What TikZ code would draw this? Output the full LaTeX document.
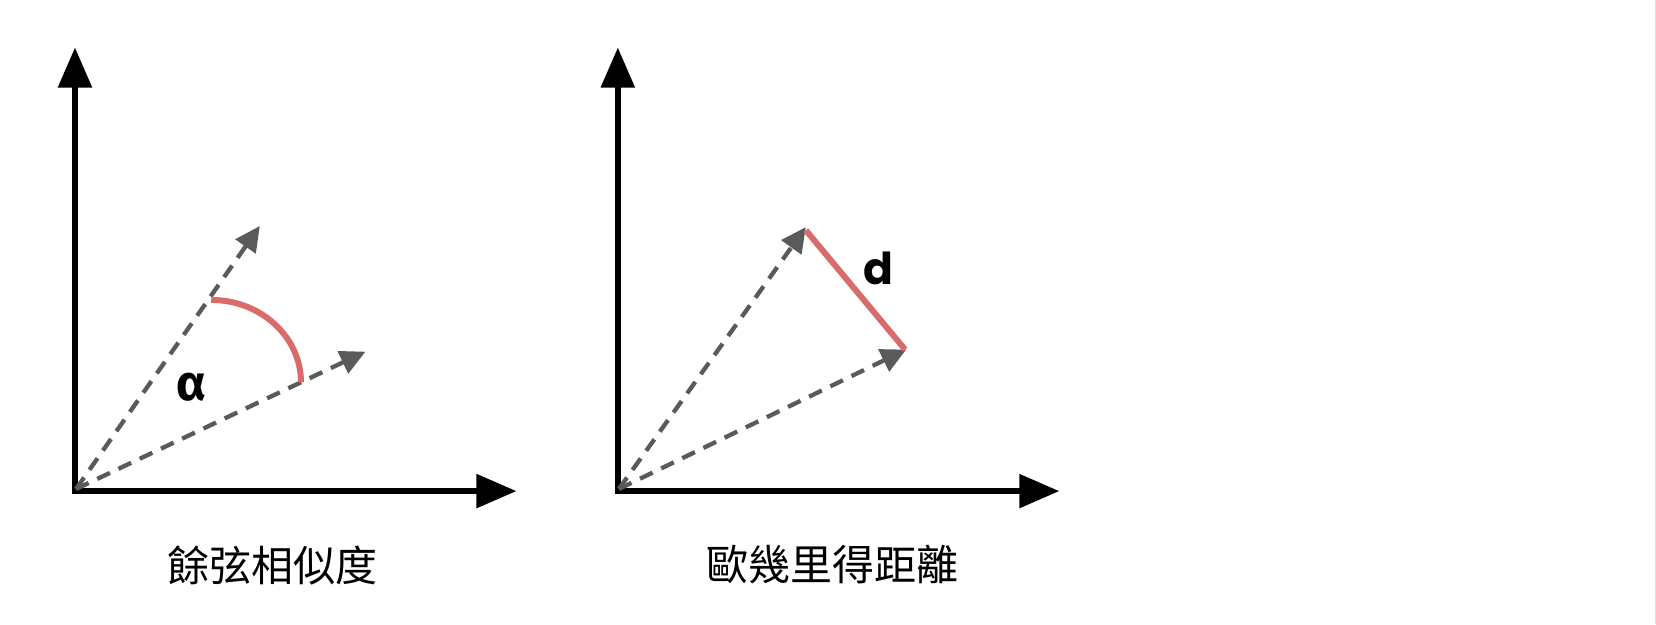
\documentclass[tikz,border=0pt]{standalone}
\usepackage{fontspec}
\setmainfont{Noto Sans}
\newfontfamily\cjk{Noto Sans CJK TC}
\newfontfamily\greekbold{Fira Sans}
\newfontfamily\geo{Poppins}
\usetikzlibrary{arrows.meta}
\definecolor{vecgray}{HTML}{5A5A5A}
\definecolor{redarc}{HTML}{D96B6B}
\tikzset{
  axis/.style={line width=5.5pt, black, -{Triangle[length=40pt,width=33pt]}},
  vec/.style={line width=4.3pt, vecgray, dash pattern=on 14pt off 9.5pt, -{Triangle[length=25pt,width=24pt]}},
  redline/.style={line width=6pt, redarc},
  caption/.style={font=\cjk\fontsize{42}{50}\selectfont, inner sep=0pt},
}
\begin{document}
\begin{tikzpicture}[x=1.0561pt,y=-1.0561pt]
\useasboundingbox (0,0) rectangle (1568,590.85);
\fill[white] (0,0) rectangle (1568,590.85);
\draw[gray!25, line width=1.5pt] (1567.3,0) -- (1567.3,590.85);
% left panel
\coordinate (o1) at (71,465);
\coordinate (y1) at (71,45);
\coordinate (x1) at (489,465);
\coordinate (u1) at (246,214);
\coordinate (l1) at (346,333);
\draw[axis] (o1) -- (y1);
\draw[axis] ([xshift=-2.75pt]o1) -- (x1);
\draw[vec] (72,463) -- (u1);
\draw[vec] (72,463) -- (l1);
\draw[redline] (200,284) .. controls (247,284) and (285,319) .. (285,362);
\node[font=\greekbold\bfseries\fontsize{50}{54}\selectfont, inner sep=0pt] (alpha) at (181,367) {α};
\node[caption] (cap1) at (258,535) {餘弦相似度};
% right panel
\coordinate (o2) at (585,465);
\coordinate (y2) at (585,45);
\coordinate (x2) at (1003,465);
\coordinate (u2) at (763,215);
\coordinate (l2) at (858,331);
\draw[axis] (o2) -- (y2);
\draw[axis] ([xshift=-2.75pt]o2) -- (x2);
\draw[vec] (586,463) -- (u2);
\draw[vec] (586,463) -- (l2);
\draw[redline] (763,218) -- (857,331);
\node[font=\geo\bfseries\fontsize{44}{50}\selectfont, inner sep=0pt] (d) at (832,254) {d};
\node[caption] (cap2) at (788,535) {歐幾里得距離};
\end{tikzpicture}
\end{document}
